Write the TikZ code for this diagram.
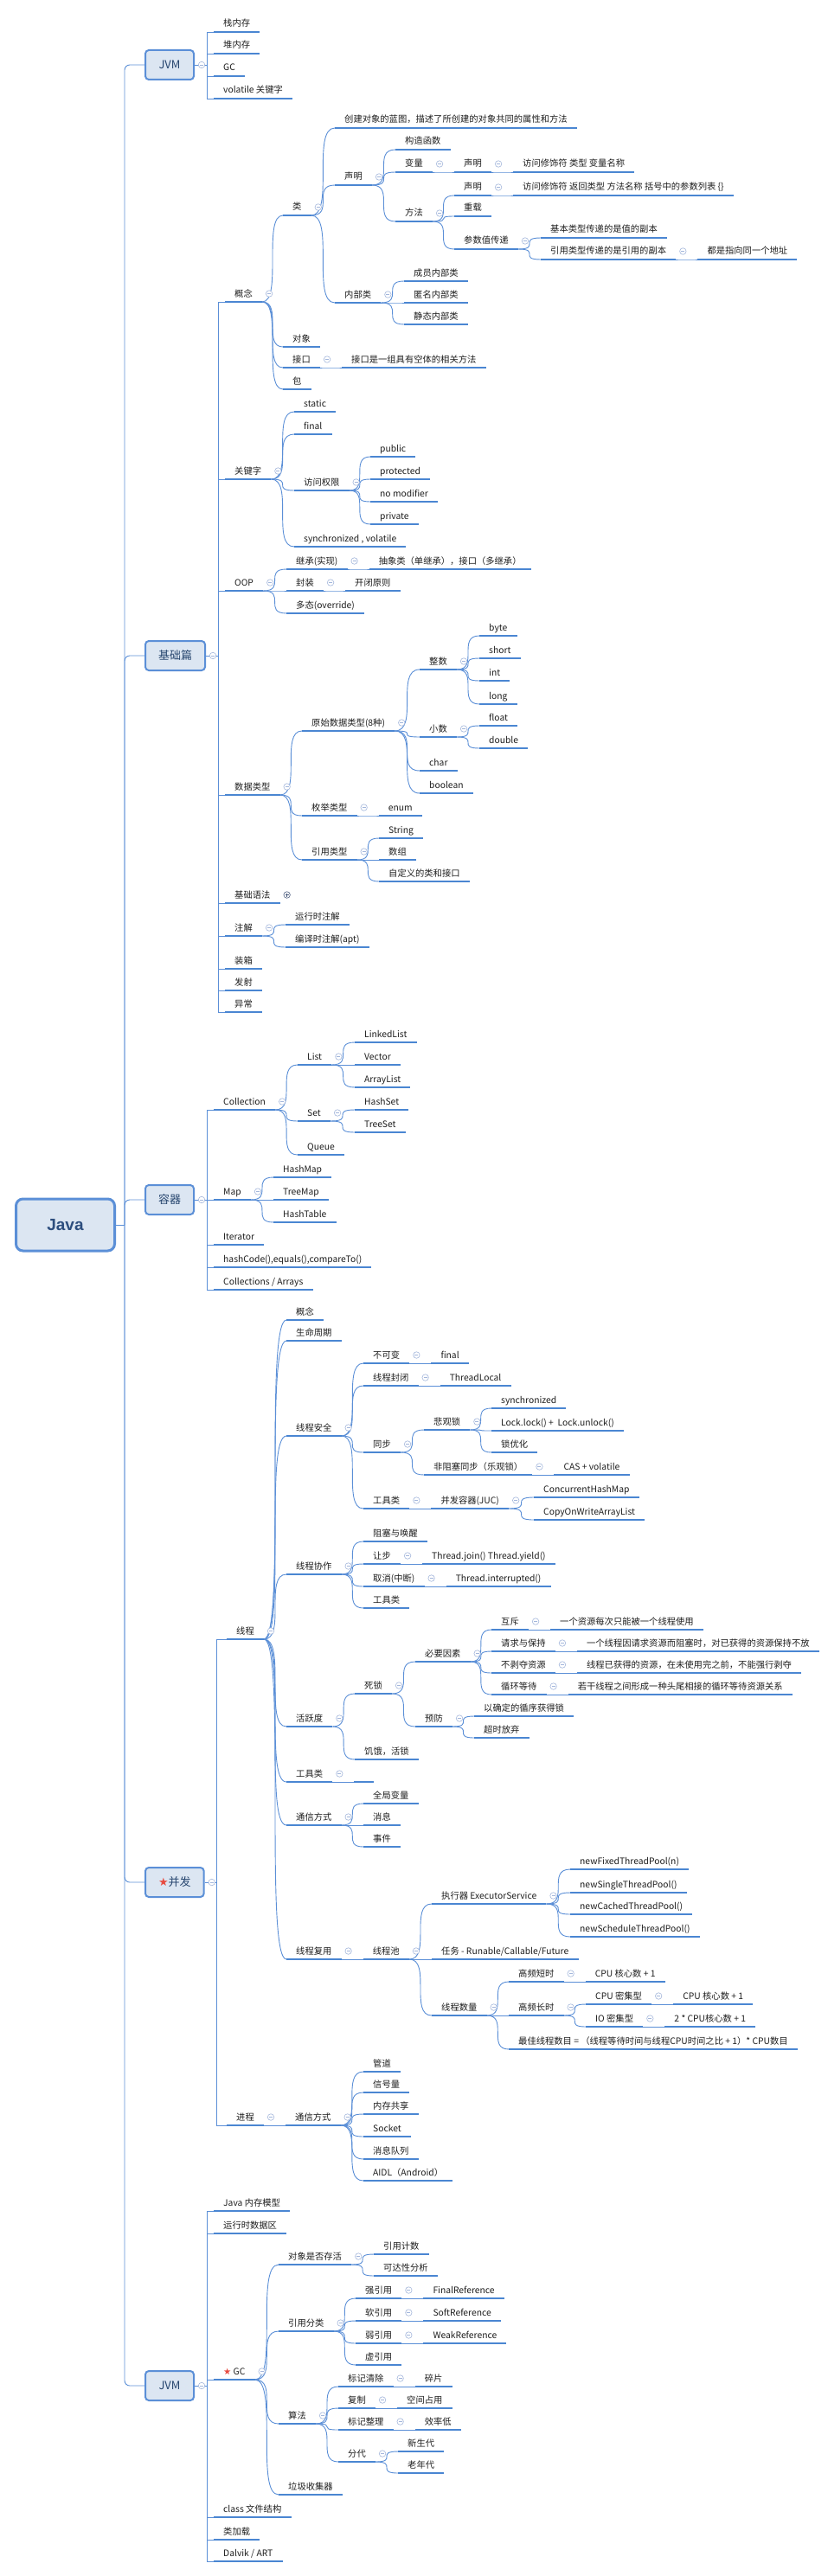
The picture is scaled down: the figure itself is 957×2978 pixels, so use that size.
\documentclass[tikz,border=0pt]{standalone}
\usepackage{fontspec}
\setmainfont{Noto Sans CJK SC}
\newfontfamily\starfont{DejaVu Sans}
\newfontfamily\javafont{Liberation Sans}
\usepackage{xcolor}
\usepackage{tikz}
\usetikzlibrary{positioning}
\definecolor{mmLine}{HTML}{5B8FD7}
\definecolor{mmBar}{HTML}{4A86D2}
\definecolor{mmFill}{HTML}{DCE6F2}
\definecolor{mmInk}{HTML}{1E1E1E}
\definecolor{mmHead}{HTML}{26456E}
\definecolor{mmRoot}{HTML}{2D4E7E}
\definecolor{mmFold}{HTML}{A3B6DB}
\definecolor{mmFoldDark}{HTML}{4E5F80}
\definecolor{mmStar}{HTML}{E84A3F}
\newcommand\topicfont{\fontsize{10.3pt}{12pt}\selectfont}
\newcommand\headfont{\fontsize{13pt}{15pt}\selectfont}
\newcommand\rootfont{\javafont\bfseries\fontsize{19pt}{22pt}\selectfont}
\newcommand\redstar{{\starfont\color{mmStar}★}}
\pgfdeclarelayer{paper}
\pgfdeclarelayer{wires}
\pgfsetlayers{paper,wires,main}
\tikzset{
  root/.style={
    anchor=west,
    draw=mmLine,
    line width=3pt,
    fill=mmFill,
    rounded corners=8pt,
    minimum width=114pt,
    minimum height=60pt,
    font=\rootfont,
    text=mmRoot
  },
  head/.style={
    anchor=west,
    draw=mmLine,
    line width=2pt,
    fill=mmFill,
    rounded corners=4pt,
    minimum width=56pt,
    minimum height=34pt,
    inner xsep=15pt,
    font=\headfont,
    text=mmHead
  },
  topic/.style={
    anchor=south west,
    inner xsep=11pt,
    inner ysep=3.8pt,
    text height=9pt,
    text depth=2pt,
    font=\topicfont,
    text=mmInk,
    append after command={(\tikzlastnode.south west) edge[bar] (\tikzlastnode.south east)}
  },
  bar/.style={draw=mmBar, line width=2.6pt},
  foldmark/.style={
    circle,
    draw=mmFold,
    fill=white,
    line width=0.6pt,
    minimum size=7.5pt,
    inner sep=0pt,
    label distance=4pt,
    path picture={\draw[mmFold, line width=0.7pt]
      ([xshift=-2pt]path picture bounding box.center) -- ([xshift=2pt]path picture bounding box.center);}
  },
  plusmark/.style={
    circle,
    draw=mmFoldDark,
    fill=white,
    line width=0.6pt,
    minimum size=7.5pt,
    inner sep=0pt,
    label distance=4pt,
    path picture={\draw[mmFoldDark, line width=0.7pt]
      ([xshift=-2pt]path picture bounding box.center) -- ([xshift=2pt]path picture bounding box.center)
      ([yshift=-2pt]path picture bounding box.center) -- ([yshift=2pt]path picture bounding box.center);}
  },
  fold/.style={label={[foldmark]0:{}}},
  foldplus/.style={label={[plusmark]0:{}}},
  limb/.style={draw=mmLine, line width=0.9pt},
  twig/.style={
    draw=mmLine,
    line width=0.9pt,
    to path={.. controls (\tikztotarget |- \tikztostart) and (\tikztostart |- \tikztotarget) .. (\tikztotarget)}
  }
}

\begin{document}
\begin{tikzpicture}[x=1pt, y=-1pt, node distance=25pt]
  \useasboundingbox (0,0) rectangle (957,2978);
  \begin{pgfonlayer}{paper}
    \fill[white] (0,0) rectangle (957,2978);
  \end{pgfonlayer}

  \node[root] (java) at (17,1416) {Java};

  \node[head, fold] (jvmTop) at (167,75) {JVM};
  \node[topic] (stackMem) at (247,37) {栈内存};
  \node[topic] (heapMem) at (247,62) {堆内存};
  \node[topic] (gcTop) at (247,88) {GC};
  \node[topic] (volKey) at (247,114) {volatile 关键字};

  \node[head, fold] (basics) at (167,758) {基础篇};
  \node[topic, fold] (concept) at (260,349) {概念};
  \node[topic, fold] (keyword) at (260,554) {关键字};
  \node[topic, fold] (oop) at (260,683) {OOP};
  \node[topic, fold] (dataType) at (260,919) {数据类型};
  \node[topic, foldplus] (syntax) at (260,1044) {基础语法};
  \node[topic, fold] (annot) at (260,1082) {注解};
  \node[topic] (boxing) at (260,1120) {装箱};
  \node[topic] (reflect) at (260,1145) {发射};
  \node[topic] (except) at (260,1170) {异常};

  \node[topic, fold] (klass) at (327,249) {类};
  \node[topic] (object) at (327,401) {对象};
  \node[topic, fold] (iface) at (327,425) {接口};
  \node[topic, right=of iface] (ifaceDef) {接口是一组具有空体的相关方法};
  \node[topic] (pkg) at (327,450) {包};
  \node[topic] (klassDef) at (387,148) {创建对象的蓝图，描述了所创建的对象共同的属性和方法};
  \node[topic, fold] (decl) at (387,214) {声明};
  \node[topic, fold] (inner) at (387,350) {内部类};
  \node[topic] (ctor) at (457,173) {构造函数};
  \node[topic, fold] (var) at (457,199) {变量};
  \node[topic, fold, right=of var] (varDecl) {声明};
  \node[topic, right=of varDecl] (varSig) {访问修饰符 类型 变量名称};
  \node[topic, fold] (method) at (457,256) {方法};
  \node[topic, fold] (methDecl) at (525,226) {声明};
  \node[topic, right=of methDecl] (methSig) {访问修饰符 返回类型 方法名称 括号中的参数列表 \{\}};
  \node[topic] (overload) at (525,250) {重载};
  \node[topic, fold] (passing) at (525,288) {参数值传递};
  \node[topic] (passPrim) at (625,275) {基本类型传递的是值的副本};
  \node[topic, fold] (passRef) at (625,300) {引用类型传递的是引用的副本};
  \node[topic, right=of passRef] (sameAddr) {都是指向同一个地址};
  \node[topic] (memberIn) at (467,325) {成员内部类};
  \node[topic] (anonIn) at (467,350) {匿名内部类};
  \node[topic] (staticIn) at (467,375) {静态内部类};

  \node[topic] (kwStatic) at (340,476) {static};
  \node[topic] (kwFinal) at (340,502) {final};
  \node[topic, fold] (access) at (340,567) {访问权限};
  \node[topic] (kwSync) at (340,632) {synchronized , volatile};
  \node[topic] (accPublic) at (428,528) {public};
  \node[topic] (accProt) at (428,554) {protected};
  \node[topic] (accNone) at (428,580) {no modifier};
  \node[topic] (accPriv) at (428,606) {private};

  \node[topic, fold] (inherit) at (331,658) {继承(实现)};
  \node[topic, right=of inherit] (inheritNote) {抽象类（单继承），接口（多继承）};
  \node[topic, fold] (encap) at (331,683) {封装};
  \node[topic, right=of encap] (openClose) {开闭原则};
  \node[topic] (poly) at (331,709) {多态(override)};

  \node[topic, fold] (primType) at (349,845) {原始数据类型(8种)};
  \node[topic, fold] (enumType) at (349,943) {枚举类型};
  \node[topic, right=of enumType] (enumKw) {enum};
  \node[topic, fold] (refType) at (349,994) {引用类型};
  \node[topic, fold] (intType) at (485,774) {整数};
  \node[topic, fold] (floatType) at (485,852) {小数};
  \node[topic] (charType) at (485,891) {char};
  \node[topic] (boolType) at (485,917) {boolean};
  \node[topic] (tByte) at (554,735) {byte};
  \node[topic] (tShort) at (554,761) {short};
  \node[topic] (tInt) at (554,787) {int};
  \node[topic] (tLong) at (554,814) {long};
  \node[topic] (tFloat) at (554,839) {float};
  \node[topic] (tDouble) at (554,865) {double};
  \node[topic] (tString) at (438,969) {String};
  \node[topic] (tArray) at (438,994) {数组};
  \node[topic] (tCustom) at (438,1019) {自定义的类和接口};

  \node[topic] (rtAnnot) at (330,1069) {运行时注解};
  \node[topic] (ctAnnot) at (330,1095) {编译时注解(apt)};

  \node[head, fold] (container) at (167,1387) {容器};
  \node[topic, fold] (collection) at (247,1283) {Collection};
  \node[topic, fold] (map) at (247,1387) {Map};
  \node[topic] (iterator) at (247,1439) {Iterator};
  \node[topic] (hashEq) at (247,1465) {hashCode(),equals(),compareTo()};
  \node[topic] (colArr) at (247,1491) {Collections / Arrays};
  \node[topic, fold] (list) at (344,1231) {List};
  \node[topic, fold] (set) at (344,1296) {Set};
  \node[topic] (queue) at (344,1335) {Queue};
  \node[topic] (linkedList) at (410,1205) {LinkedList};
  \node[topic] (vector) at (410,1231) {Vector};
  \node[topic] (arrayList) at (410,1257) {ArrayList};
  \node[topic] (hashSet) at (410,1283) {HashSet};
  \node[topic] (treeSet) at (410,1309) {TreeSet};
  \node[topic] (hashMap) at (316,1361) {HashMap};
  \node[topic] (treeMap) at (316,1387) {TreeMap};
  \node[topic] (hashTable) at (316,1413) {HashTable};

  \node[head, fold] (concur) at (167,2176) {\redstar 并发};
  \node[topic, fold] (thread) at (262,1895) {线程};
  \node[topic, fold] (process) at (262,2457) {进程};
  \node[topic] (thConcept) at (331,1526) {概念};
  \node[topic] (lifecycle) at (331,1550) {生命周期};
  \node[topic, fold] (safety) at (331,1660) {线程安全};
  \node[topic, fold] (cooperate) at (331,1820) {线程协作};
  \node[topic, fold] (liveness) at (331,1996) {活跃度};
  \node[topic, fold] (thTools) at (331,2060) {工具类};
  \node[topic, right=of thTools] (thToolsBlank) {};
  \node[topic, fold] (thComm) at (331,2110) {通信方式};
  \node[topic, fold] (reuse) at (331,2265) {线程复用};

  \node[topic, fold] (immut) at (420,1576) {不可变};
  \node[topic, right=of immut] (immutFinal) {final};
  \node[topic, fold] (confine) at (420,1602) {线程封闭};
  \node[topic, right=of confine] (threadLocal) {ThreadLocal};
  \node[topic, fold] (syncing) at (420,1679) {同步};
  \node[topic, fold] (safeTools) at (420,1744) {工具类};
  \node[topic, fold, right=of safeTools] (juc) {并发容器(JUC)};
  \node[topic] (chm) at (617,1731) {ConcurrentHashMap};
  \node[topic] (cowal) at (617,1757) {CopyOnWriteArrayList};
  \node[topic, fold] (pessim) at (490,1653) {悲观锁};
  \node[topic, fold] (nonBlock) at (490,1705) {非阻塞同步（乐观锁）};
  \node[topic, right=of nonBlock] (cas) {CAS + volatile};
  \node[topic] (syncKw) at (568,1628) {synchronized};
  \node[topic] (lockPair) at (568,1654) {Lock.lock() +~ Lock.unlock()};
  \node[topic] (lockOpt) at (568,1679) {锁优化};

  \node[topic] (blockWake) at (420,1782) {阻塞与唤醒};
  \node[topic, fold] (yieldTo) at (420,1808) {让步};
  \node[topic, right=of yieldTo] (joinYield) {Thread.join() Thread.yield()};
  \node[topic, fold] (cancel) at (420,1834) {取消(中断)};
  \node[topic, right=of cancel] (interrupted) {Thread.interrupted()};
  \node[topic] (coopTools) at (420,1859) {工具类};

  \node[topic, fold] (deadlock) at (410,1958) {死锁};
  \node[topic] (starve) at (410,2034) {饥饿，活锁};
  \node[topic, fold] (necessary) at (480,1921) {必要因素};
  \node[topic, fold] (prevent) at (480,1996) {预防};
  \node[topic, fold] (mutex) at (568,1884) {互斥};
  \node[topic, right=of mutex] (mutexNote) {一个资源每次只能被一个线程使用};
  \node[topic, fold] (holdWait) at (568,1909) {请求与保持};
  \node[topic, right=of holdWait] (holdNote) {一个线程因请求资源而阻塞时，对已获得的资源保持不放};
  \node[topic, fold] (noPreempt) at (568,1934) {不剥夺资源};
  \node[topic, right=of noPreempt] (noPreNote) {线程已获得的资源，在未使用完之前，不能强行剥夺};
  \node[topic, fold] (circWait) at (568,1959) {循环等待};
  \node[topic, right=of circWait] (circNote) {若干线程之间形成一种头尾相接的循环等待资源关系};
  \node[topic] (lockOrder) at (548,1984) {以确定的循序获得锁};
  \node[topic] (timeout) at (548,2009) {超时放弃};

  \node[topic] (globalVar) at (420,2085) {全局变量};
  \node[topic] (message) at (420,2110) {消息};
  \node[topic] (event) at (420,2135) {事件};

  \node[topic, fold, right=of reuse] (pool) {线程池};
  \node[topic, fold] (executor) at (499,2201) {执行器 ExecutorService};
  \node[topic] (task) at (499,2265) {任务 - Runable/Callable/Future};
  \node[topic, fold] (poolSize) at (499,2330) {线程数量};
  \node[topic] (fixedPool) at (659,2161) {newFixedThreadPool(n)};
  \node[topic] (singlePool) at (659,2188) {newSingleThreadPool()};
  \node[topic] (cachedPool) at (659,2213) {newCachedThreadPool()};
  \node[topic] (schedPool) at (659,2239) {newScheduleThreadPool()};
  \node[topic, fold] (shortTask) at (588,2291) {高频短时};
  \node[topic, right=of shortTask] (shortNum) {CPU 核心数 + 1};
  \node[topic, fold] (longTask) at (588,2330) {高频长时};
  \node[topic] (bestNum) at (588,2369) {最佳线程数目 = （线程等待时间与线程CPU时间之比 + 1）* CPU数目};
  \node[topic, fold] (cpuBound) at (677,2317) {CPU 密集型};
  \node[topic, right=of cpuBound] (cpuNum) {CPU 核心数 + 1};
  \node[topic, fold] (ioBound) at (677,2343) {IO 密集型};
  \node[topic, right=of ioBound] (ioNum) {2 * CPU核心数 + 1};

  \node[topic, fold, right=of process] (procComm) {通信方式};
  \node[topic] (pipe) at (420,2395) {管道};
  \node[topic] (semaphore) at (420,2419) {信号量};
  \node[topic] (shmem) at (420,2444) {内存共享};
  \node[topic] (socket) at (420,2470) {Socket};
  \node[topic] (msgQueue) at (420,2496) {消息队列};
  \node[topic] (aidl) at (420,2521) {AIDL（Android）};

  \node[head, fold] (jvmBot) at (167,2758) {JVM};
  \node[topic] (jmm) at (247,2556) {Java 内存模型};
  \node[topic] (runtimeArea) at (247,2582) {运行时数据区};
  \node[topic, fold] (gc) at (247,2751) {\redstar\ GC};
  \node[topic] (classFile) at (247,2910) {class 文件结构};
  \node[topic] (classLoad) at (247,2936) {类加载};
  \node[topic] (dalvik) at (247,2961) {Dalvik / ART};
  \node[topic, fold] (alive) at (322,2618) {对象是否存活};
  \node[topic, fold] (refKinds) at (322,2695) {引用分类};
  \node[topic, fold] (algo) at (322,2802) {算法};
  \node[topic] (collector) at (322,2884) {垃圾收集器};
  \node[topic] (refCount) at (432,2606) {引用计数};
  \node[topic] (reach) at (432,2631) {可达性分析};
  \node[topic, fold] (strongRef) at (411,2657) {强引用};
  \node[topic, right=of strongRef] (finalRef) {FinalReference};
  \node[topic, fold] (softRef) at (411,2683) {软引用};
  \node[topic, right=of softRef] (softRefCls) {SoftReference};
  \node[topic, fold] (weakRef) at (411,2709) {弱引用};
  \node[topic, right=of weakRef] (weakRefCls) {WeakReference};
  \node[topic] (phantomRef) at (411,2734) {虚引用};
  \node[topic, fold] (markSweep) at (391,2759) {标记清除};
  \node[topic, right=of markSweep] (fragment) {碎片};
  \node[topic, fold] (copying) at (391,2784) {复制};
  \node[topic, right=of copying] (spaceUse) {空间占用};
  \node[topic, fold] (markCompact) at (391,2809) {标记整理};
  \node[topic, right=of markCompact] (lowEff) {效率低};
  \node[topic, fold] (generational) at (391,2846) {分代};
  \node[topic] (youngGen) at (460,2834) {新生代};
  \node[topic] (oldGen) at (460,2859) {老年代};

  \begin{pgfonlayer}{wires}
  \coordinate (trunk) at ([xshift=10pt]java.east);
  \draw[limb] (java.east) -- (trunk);
  \draw[limb, rounded corners=6pt] (trunk) |- (jvmTop.west);
  \draw[limb, rounded corners=6pt] (trunk) |- (basics.west);
  \draw[limb, rounded corners=6pt] (trunk) |- (container.west);
  \draw[limb, rounded corners=6pt] (trunk) |- (concur.west);
  \draw[limb, rounded corners=6pt] (trunk) |- (jvmBot.west);

  \draw[limb] (jvmTop.east) -- ++(14,0) |- (stackMem.south west);
  \draw[limb] (jvmTop.east) -- ++(14,0) |- (heapMem.south west);
  \draw[limb] (jvmTop.east) -- ++(14,0) |- (gcTop.south west);
  \draw[limb] (jvmTop.east) -- ++(14,0) |- (volKey.south west);

  \draw[limb] (basics.east) -- ++(14,0) |- (concept.south west);
  \draw[limb] (basics.east) -- ++(14,0) |- (keyword.south west);
  \draw[limb] (basics.east) -- ++(14,0) |- (oop.south west);
  \draw[limb] (basics.east) -- ++(14,0) |- (dataType.south west);
  \draw[limb] (basics.east) -- ++(14,0) |- (syntax.south west);
  \draw[limb] (basics.east) -- ++(14,0) |- (annot.south west);
  \draw[limb] (basics.east) -- ++(14,0) |- (boxing.south west);
  \draw[limb] (basics.east) -- ++(14,0) |- (reflect.south west);
  \draw[limb] (basics.east) -- ++(14,0) |- (except.south west);

  \draw[limb] (container.east) -- ++(14,0) |- (collection.south west);
  \draw[limb] (container.east) -- ++(14,0) |- (map.south west);
  \draw[limb] (container.east) -- ++(14,0) |- (iterator.south west);
  \draw[limb] (container.east) -- ++(14,0) |- (hashEq.south west);
  \draw[limb] (container.east) -- ++(14,0) |- (colArr.south west);

  \draw[limb] (concur.east) -- ++(14,0) |- (thread.south west);
  \draw[limb] (concur.east) -- ++(14,0) |- (process.south west);

  \draw[limb] (jvmBot.east) -- ++(14,0) |- (jmm.south west);
  \draw[limb] (jvmBot.east) -- ++(14,0) |- (runtimeArea.south west);
  \draw[limb] (jvmBot.east) -- ++(14,0) |- (gc.south west);
  \draw[limb] (jvmBot.east) -- ++(14,0) |- (classFile.south west);
  \draw[limb] (jvmBot.east) -- ++(14,0) |- (classLoad.south west);
  \draw[limb] (jvmBot.east) -- ++(14,0) |- (dalvik.south west);

  \draw[twig] (concept.south east) to (klass.south west);
  \draw[twig] (concept.south east) to (object.south west);
  \draw[twig] (concept.south east) to (iface.south west);
  \draw[twig] (concept.south east) to (pkg.south west);
  \draw[twig] (iface.south east) to (ifaceDef.south west);
  \draw[twig] (klass.south east) to (klassDef.south west);
  \draw[twig] (klass.south east) to (decl.south west);
  \draw[twig] (klass.south east) to (inner.south west);
  \draw[twig] (decl.south east) to (ctor.south west);
  \draw[twig] (decl.south east) to (var.south west);
  \draw[twig] (decl.south east) to (method.south west);
  \draw[twig] (var.south east) to (varDecl.south west);
  \draw[twig] (varDecl.south east) to (varSig.south west);
  \draw[twig] (method.south east) to (methDecl.south west);
  \draw[twig] (method.south east) to (overload.south west);
  \draw[twig] (method.south east) to (passing.south west);
  \draw[twig] (methDecl.south east) to (methSig.south west);
  \draw[twig] (passing.south east) to (passPrim.south west);
  \draw[twig] (passing.south east) to (passRef.south west);
  \draw[twig] (passRef.south east) to (sameAddr.south west);
  \draw[twig] (inner.south east) to (memberIn.south west);
  \draw[twig] (inner.south east) to (anonIn.south west);
  \draw[twig] (inner.south east) to (staticIn.south west);

  \draw[twig] (keyword.south east) to (kwStatic.south west);
  \draw[twig] (keyword.south east) to (kwFinal.south west);
  \draw[twig] (keyword.south east) to (access.south west);
  \draw[twig] (keyword.south east) to (kwSync.south west);
  \draw[twig] (access.south east) to (accPublic.south west);
  \draw[twig] (access.south east) to (accProt.south west);
  \draw[twig] (access.south east) to (accNone.south west);
  \draw[twig] (access.south east) to (accPriv.south west);

  \draw[twig] (oop.south east) to (inherit.south west);
  \draw[twig] (oop.south east) to (encap.south west);
  \draw[twig] (oop.south east) to (poly.south west);
  \draw[twig] (inherit.south east) to (inheritNote.south west);
  \draw[twig] (encap.south east) to (openClose.south west);

  \draw[twig] (dataType.south east) to (primType.south west);
  \draw[twig] (dataType.south east) to (enumType.south west);
  \draw[twig] (dataType.south east) to (refType.south west);
  \draw[twig] (enumType.south east) to (enumKw.south west);
  \draw[twig] (primType.south east) to (intType.south west);
  \draw[twig] (primType.south east) to (floatType.south west);
  \draw[twig] (primType.south east) to (charType.south west);
  \draw[twig] (primType.south east) to (boolType.south west);
  \draw[twig] (intType.south east) to (tByte.south west);
  \draw[twig] (intType.south east) to (tShort.south west);
  \draw[twig] (intType.south east) to (tInt.south west);
  \draw[twig] (intType.south east) to (tLong.south west);
  \draw[twig] (floatType.south east) to (tFloat.south west);
  \draw[twig] (floatType.south east) to (tDouble.south west);
  \draw[twig] (refType.south east) to (tString.south west);
  \draw[twig] (refType.south east) to (tArray.south west);
  \draw[twig] (refType.south east) to (tCustom.south west);
  \draw[twig] (annot.south east) to (rtAnnot.south west);
  \draw[twig] (annot.south east) to (ctAnnot.south west);

  \draw[twig] (collection.south east) to (list.south west);
  \draw[twig] (collection.south east) to (set.south west);
  \draw[twig] (collection.south east) to (queue.south west);
  \draw[twig] (list.south east) to (linkedList.south west);
  \draw[twig] (list.south east) to (vector.south west);
  \draw[twig] (list.south east) to (arrayList.south west);
  \draw[twig] (set.south east) to (hashSet.south west);
  \draw[twig] (set.south east) to (treeSet.south west);
  \draw[twig] (map.south east) to (hashMap.south west);
  \draw[twig] (map.south east) to (treeMap.south west);
  \draw[twig] (map.south east) to (hashTable.south west);

  \draw[twig] (thread.south east) to (thConcept.south west);
  \draw[twig] (thread.south east) to (lifecycle.south west);
  \draw[twig] (thread.south east) to (safety.south west);
  \draw[twig] (thread.south east) to (cooperate.south west);
  \draw[twig] (thread.south east) to (liveness.south west);
  \draw[twig] (thread.south east) to (thTools.south west);
  \draw[twig] (thread.south east) to (thComm.south west);
  \draw[twig] (thread.south east) to (reuse.south west);
  \draw[twig] (thTools.south east) to (thToolsBlank.south west);

  \draw[twig] (safety.south east) to (immut.south west);
  \draw[twig] (safety.south east) to (confine.south west);
  \draw[twig] (safety.south east) to (syncing.south west);
  \draw[twig] (safety.south east) to (safeTools.south west);
  \draw[twig] (immut.south east) to (immutFinal.south west);
  \draw[twig] (confine.south east) to (threadLocal.south west);
  \draw[twig] (syncing.south east) to (pessim.south west);
  \draw[twig] (syncing.south east) to (nonBlock.south west);
  \draw[twig] (pessim.south east) to (syncKw.south west);
  \draw[twig] (pessim.south east) to (lockPair.south west);
  \draw[twig] (pessim.south east) to (lockOpt.south west);
  \draw[twig] (nonBlock.south east) to (cas.south west);
  \draw[twig] (safeTools.south east) to (juc.south west);
  \draw[twig] (juc.south east) to (chm.south west);
  \draw[twig] (juc.south east) to (cowal.south west);

  \draw[twig] (cooperate.south east) to (blockWake.south west);
  \draw[twig] (cooperate.south east) to (yieldTo.south west);
  \draw[twig] (cooperate.south east) to (cancel.south west);
  \draw[twig] (cooperate.south east) to (coopTools.south west);
  \draw[twig] (yieldTo.south east) to (joinYield.south west);
  \draw[twig] (cancel.south east) to (interrupted.south west);

  \draw[twig] (liveness.south east) to (deadlock.south west);
  \draw[twig] (liveness.south east) to (starve.south west);
  \draw[twig] (deadlock.south east) to (necessary.south west);
  \draw[twig] (deadlock.south east) to (prevent.south west);
  \draw[twig] (necessary.south east) to (mutex.south west);
  \draw[twig] (necessary.south east) to (holdWait.south west);
  \draw[twig] (necessary.south east) to (noPreempt.south west);
  \draw[twig] (necessary.south east) to (circWait.south west);
  \draw[twig] (mutex.south east) to (mutexNote.south west);
  \draw[twig] (holdWait.south east) to (holdNote.south west);
  \draw[twig] (noPreempt.south east) to (noPreNote.south west);
  \draw[twig] (circWait.south east) to (circNote.south west);
  \draw[twig] (prevent.south east) to (lockOrder.south west);
  \draw[twig] (prevent.south east) to (timeout.south west);

  \draw[twig] (thComm.south east) to (globalVar.south west);
  \draw[twig] (thComm.south east) to (message.south west);
  \draw[twig] (thComm.south east) to (event.south west);

  \draw[twig] (reuse.south east) to (pool.south west);
  \draw[twig] (pool.south east) to (executor.south west);
  \draw[twig] (pool.south east) to (task.south west);
  \draw[twig] (pool.south east) to (poolSize.south west);
  \draw[twig] (executor.south east) to (fixedPool.south west);
  \draw[twig] (executor.south east) to (singlePool.south west);
  \draw[twig] (executor.south east) to (cachedPool.south west);
  \draw[twig] (executor.south east) to (schedPool.south west);
  \draw[twig] (poolSize.south east) to (shortTask.south west);
  \draw[twig] (poolSize.south east) to (longTask.south west);
  \draw[twig] (poolSize.south east) to (bestNum.south west);
  \draw[twig] (shortTask.south east) to (shortNum.south west);
  \draw[twig] (longTask.south east) to (cpuBound.south west);
  \draw[twig] (longTask.south east) to (ioBound.south west);
  \draw[twig] (cpuBound.south east) to (cpuNum.south west);
  \draw[twig] (ioBound.south east) to (ioNum.south west);

  \draw[twig] (process.south east) to (procComm.south west);
  \draw[twig] (procComm.south east) to (pipe.south west);
  \draw[twig] (procComm.south east) to (semaphore.south west);
  \draw[twig] (procComm.south east) to (shmem.south west);
  \draw[twig] (procComm.south east) to (socket.south west);
  \draw[twig] (procComm.south east) to (msgQueue.south west);
  \draw[twig] (procComm.south east) to (aidl.south west);

  \draw[twig] (gc.south east) to (alive.south west);
  \draw[twig] (gc.south east) to (refKinds.south west);
  \draw[twig] (gc.south east) to (algo.south west);
  \draw[twig] (gc.south east) to (collector.south west);
  \draw[twig] (alive.south east) to (refCount.south west);
  \draw[twig] (alive.south east) to (reach.south west);
  \draw[twig] (refKinds.south east) to (strongRef.south west);
  \draw[twig] (refKinds.south east) to (softRef.south west);
  \draw[twig] (refKinds.south east) to (weakRef.south west);
  \draw[twig] (refKinds.south east) to (phantomRef.south west);
  \draw[twig] (strongRef.south east) to (finalRef.south west);
  \draw[twig] (softRef.south east) to (softRefCls.south west);
  \draw[twig] (weakRef.south east) to (weakRefCls.south west);
  \draw[twig] (algo.south east) to (markSweep.south west);
  \draw[twig] (algo.south east) to (copying.south west);
  \draw[twig] (algo.south east) to (markCompact.south west);
  \draw[twig] (algo.south east) to (generational.south west);
  \draw[twig] (markSweep.south east) to (fragment.south west);
  \draw[twig] (copying.south east) to (spaceUse.south west);
  \draw[twig] (markCompact.south east) to (lowEff.south west);
  \draw[twig] (generational.south east) to (youngGen.south west);
  \draw[twig] (generational.south east) to (oldGen.south west);
  \end{pgfonlayer}
\end{tikzpicture}
\end{document}
